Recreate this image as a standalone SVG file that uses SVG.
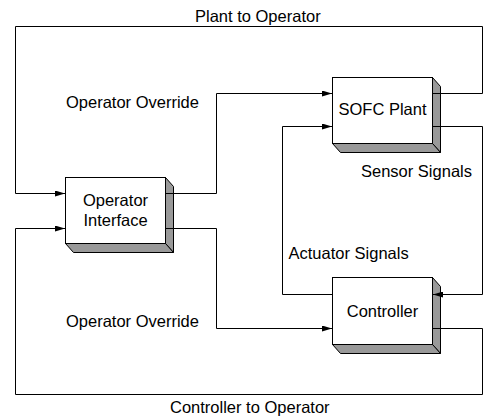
<svg xmlns="http://www.w3.org/2000/svg" width="484" height="418" viewBox="0 0 484 418">
<style>
text{font-family:"Liberation Sans",Arial,Helvetica,sans-serif;font-size:16.5px;fill:#000}
.face{fill:#fff;stroke:#000;stroke-width:1}
.shade{fill:#999;stroke:#000;stroke-width:1;stroke-linejoin:miter}
.conn{fill:none;stroke:#000;stroke-width:1}
</style>
<defs>
<marker id="arr" markerUnits="userSpaceOnUse" markerWidth="10" markerHeight="6" refX="10" refY="3" orient="auto" viewBox="0 0 10 6">
<path d="M0,0 L10,3 L0,6 Z" fill="#000"/>
</marker>
</defs>
<rect width="484" height="418" fill="#fff"/>
<g id="operator-interface">
<polygon class="shade" points="165.5,177.5 173.5,186.5 173.5,252.5 165.5,243.5"/>
<polygon class="shade" points="65.5,243.5 165.5,243.5 173.5,252.5 73.5,252.5"/>
<rect class="face" x="65.5" y="177.5" width="100" height="66"/>
<text x="115.5" y="205.5" text-anchor="middle">Operator</text>
<text x="115.5" y="226" text-anchor="middle">Interface</text>
</g>
<g id="sofc-plant">
<polygon class="shade" points="432.5,77.5 440.5,86.5 440.5,152.5 432.5,143.5"/>
<polygon class="shade" points="332.5,143.5 432.5,143.5 440.5,152.5 340.5,152.5"/>
<rect class="face" x="332.5" y="77.5" width="100" height="66"/>
<text x="382.5" y="115" text-anchor="middle">SOFC Plant</text>
</g>
<g id="controller">
<polygon class="shade" points="432.5,277.5 440.5,286.5 440.5,353.5 432.5,344.5"/>
<polygon class="shade" points="332.5,344.5 432.5,344.5 440.5,353.5 340.5,353.5"/>
<rect class="face" x="332.5" y="277.5" width="100" height="67"/>
<text x="382.5" y="317" text-anchor="middle">Controller</text>
</g>
<g id="connectors">
<path class="conn" d="M433,93.5 H482.5 V26.5 H15.5 V193.5 H65" marker-end="url(#arr)"/>
<path class="conn" d="M166,193.5 H216.5 V93.5 H332" marker-end="url(#arr)"/>
<path class="conn" d="M332,294.5 H282.5 V126.5 H332" marker-end="url(#arr)"/>
<path class="conn" d="M433,126.5 H482.5 V294.5 H433" marker-end="url(#arr)"/>
<path class="conn" d="M166,228.5 H216.5 V328.5 H332" marker-end="url(#arr)"/>
<path class="conn" d="M433,328.5 H482.5 V394.5 H15.5 V228.5 H65" marker-end="url(#arr)"/>
</g>
<g id="labels">
<text x="195" y="21.5">Plant to Operator</text>
<text x="66" y="108">Operator Override</text>
<text x="361" y="176.5">Sensor Signals</text>
<text x="288.5" y="259">Actuator Signals</text>
<text x="66" y="326.5">Operator Override</text>
<text x="170" y="412.5">Controller to Operator</text>
</g>
</svg>
